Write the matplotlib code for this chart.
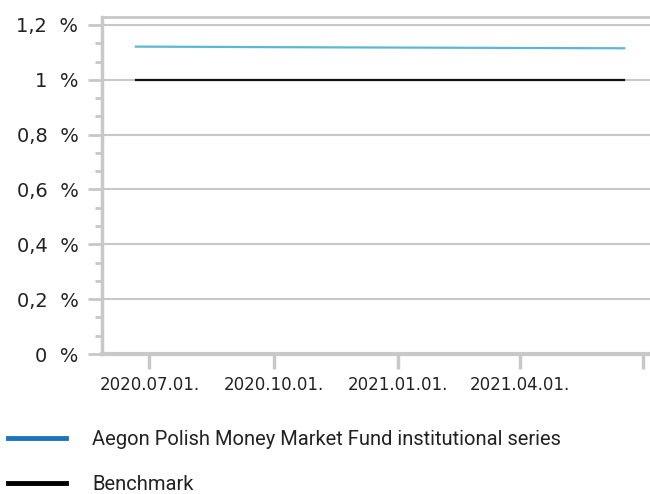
import numpy as np
import pandas as pd
import matplotlib
matplotlib.use('Agg')
import matplotlib.pyplot as plt
from matplotlib.lines import Line2D
from matplotlib.ticker import MultipleLocator, FuncFormatter

dates = pd.to_datetime(['2020-06-21', '2020-08-15', '2020-10-01', '2020-12-01',
                        '2021-02-01', '2021-04-01', '2021-06-17'])
fund = [1.121, 1.120, 1.119, 1.118, 1.117, 1.116, 1.115]
benchmark = [1.0, 1.0, 1.0, 1.0, 1.0, 1.0, 1.0]
tick_dates = pd.to_datetime(['2020-07-01', '2020-10-01', '2021-01-01', '2021-04-01', '2021-07-01'])
tick_labels = ['2020.07.01.', '2020.10.01.', '2021.01.01.', '2021.04.01.', '']
legend_labels = ['Aegon Polish Money Market Fund institutional series', 'Benchmark']

grey = '#c8c8c8'

fig = plt.figure(figsize=(6.5, 4.94), dpi=100)
ax = fig.add_axes([0.157, 0.2834, 0.843, 0.6822])

ax.plot(dates, fund, color='#5bb8d4', lw=1.6, zorder=3)
ax.plot(dates, benchmark, color='#111111', lw=1.6, zorder=3)

ax.set_ylim(0, 1.229)
ax.set_xlim(pd.Timestamp('2020-05-27'), pd.Timestamp('2021-07-06'))
ax.yaxis.set_major_locator(MultipleLocator(0.2))
ax.yaxis.set_minor_locator(MultipleLocator(0.2 / 3))
ax.yaxis.set_major_formatter(FuncFormatter(
    lambda v, p: ('%g' % round(v, 1)).replace('.', ',') + '  %'))
ax.set_xticks(tick_dates, tick_labels)

ax.grid(axis='y', which='major', color=grey, lw=1.5)
for s in ['top', 'left', 'bottom']:
    ax.spines[s].set_color(grey)
ax.spines['top'].set_linewidth(2)
ax.spines['left'].set_linewidth(2.5)
ax.spines['bottom'].set_linewidth(3)
ax.spines['right'].set_visible(False)

ax.tick_params(axis='y', which='major', length=10, width=2, color=grey,
               labelsize=14, labelcolor='#222222', pad=7)
ax.tick_params(axis='y', which='minor', length=5, width=2, color=grey)
ax.tick_params(axis='x', which='major', length=11, width=2.5, color=grey,
               labelsize=12, labelcolor='#222222', pad=5)

handles = [Line2D([], [], color='#1c75bc', lw=3.5), Line2D([], [], color='#000000', lw=3.5)]
leg = fig.legend(handles, legend_labels, loc='lower left', bbox_to_anchor=(0.012, -0.001),
                 frameon=False, handlelength=2.9, handletextpad=1.3, labelspacing=1.3,
                 borderpad=0, borderaxespad=0,
                 prop={'family': ['Roboto', 'DejaVu Sans'], 'size': 14.5})
for t in leg.get_texts():
    t.set_color('#222222')

fig.savefig('out.png', dpi=100)
